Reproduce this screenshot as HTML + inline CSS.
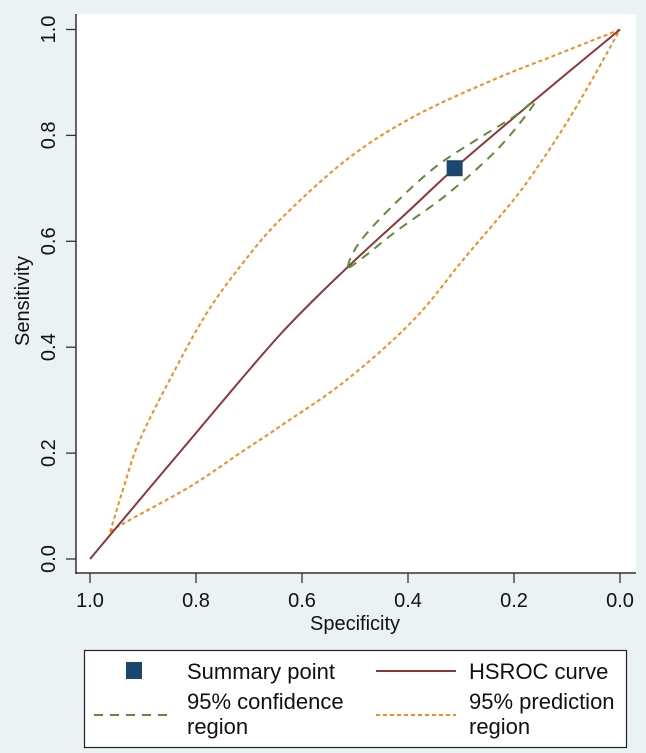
<!DOCTYPE html>
<html><head><meta charset="utf-8"><style>
body{margin:0;background:#eaf2f3;font-family:"Liberation Sans",sans-serif;}
svg{display:block}
</style></head><body>
<svg width="646" height="753" xmlns="http://www.w3.org/2000/svg">
<rect x="0" y="0" width="646" height="753" fill="#eaf2f3"/>
<rect x="76" y="14" width="560" height="559" fill="#ffffff"/>
<g id="axes"></g>
<g id="marks"></g>
<text x="355" y="630" font-size="20" text-anchor="middle" fill="#111">Specificity</text>
<text transform="translate(29,301) rotate(-90)" font-size="20" text-anchor="middle" fill="#111">Sensitivity</text>
<g>
<rect x="84.5" y="650.5" width="542" height="97" fill="#ffffff" stroke="#222" stroke-width="1.2"/>
<rect x="126" y="662" width="16" height="17" fill="#1a476f"/>
<text x="187" y="679" font-size="22" fill="#111">Summary point</text>
<line x1="376" y1="671" x2="456" y2="671" stroke="#90353b" stroke-width="2"/>
<text x="469" y="679" font-size="22" fill="#111">HSROC curve</text>
<line x1="94" y1="715" x2="174" y2="715" stroke="#5f8a3a" stroke-width="2" stroke-dasharray="9,7"/>
<text x="187" y="709" font-size="22" fill="#111">95% confidence</text>
<text x="187" y="734" font-size="22" fill="#111">region</text>
<line x1="376" y1="715" x2="456" y2="715" stroke="#f28c1c" stroke-width="2" stroke-dasharray="4,3"/>
<text x="469" y="709" font-size="22" fill="#111">95% prediction</text>
<text x="469" y="734" font-size="22" fill="#111">region</text>
</g>
</svg>
<script>
const ticks=[0,0.2,0.4,0.6,0.8,1.0];
const tickLabels=["0.0","0.2","0.4","0.6","0.8","1.0"];
const hsrocSpec=[1,0.811,0.642,0.513,0.4,0.312,0.164,0];
const hsrocSens=[0,0.225,0.423,0.552,0.656,0.738,0.864,1];
const summarySpec=[0.312];
const summarySens=[0.738];
const confSpec=[0.513,0.490,0.421,0.346,0.264,0.201,0.164,0.170,0.233,0.327,0.421,0.484,0.513];
const confSens=[0.552,0.600,0.675,0.742,0.796,0.835,0.864,0.848,0.772,0.688,0.620,0.570,0.552];
const predUpperSpec=[0.962,0.935,0.906,0.843,0.780,0.717,0.642,0.516,0.390,0.239,0.113,0];
const predUpperSens=[0.051,0.140,0.225,0.351,0.464,0.552,0.640,0.754,0.835,0.905,0.955,1];
const predLowerSpec=[0.962,0.937,0.811,0.717,0.642,0.516,0.390,0.296,0.201,0.151,0.100,0.050,0];
const predLowerSens=[0.051,0.067,0.137,0.200,0.250,0.338,0.451,0.565,0.678,0.747,0.825,0.910,1];

const NS="http://www.w3.org/2000/svg";
const X=s=>620-530*s;
const Y=v=>559-529.5*v;
const axes=document.getElementById('axes');
const marks=document.getElementById('marks');
function mk(tag,attrs,parent){const e=document.createElementNS(NS,tag);for(const k in attrs)e.setAttribute(k,attrs[k]);parent.appendChild(e);return e;}
let e=mk('line',{x1:76,y1:14,x2:76,y2:574,stroke:'#333','stroke-width':1.5},axes);


e=mk('line',{x1:75,y1:573,x2:636,y2:573,stroke:'#333','stroke-width':1.5},axes);


ticks.forEach((t,i)=>{
  let l=mk('line',{x1:X(t),y1:573,x2:X(t),y2:583,stroke:'#333','stroke-width':1.3},axes);
  
  
  let tx=mk('text',{x:X(t),y:607,'font-size':20,'text-anchor':'middle',fill:'#111'},axes);
  tx.textContent=tickLabels[i];
  
  
  l=mk('line',{x1:66,y1:Y(t),x2:76,y2:Y(t),stroke:'#333','stroke-width':1.3},axes);
  
  
  tx=mk('text',{transform:`translate(55,${Y(t)}) rotate(-90)`,'font-size':20,'text-anchor':'middle',fill:'#111'},axes);
  tx.textContent=tickLabels[i];
  
  
});
function smooth(a,b,closed){
  const P=a.map((s,i)=>[X(s),Y(b[i])]);
  const n=P.length;
  const get=i=>{
    if(closed){const m=n-1;return P[((i%m)+m)%m];}
    return P[Math.max(0,Math.min(n-1,i))];
  };
  let d='M'+P[0][0].toFixed(1)+','+P[0][1].toFixed(1);
  for(let i=0;i<n-1;i++){
    const p0=get(i-1),p1=get(i),p2=get(i+1),p3=get(i+2);
    const c1=[p1[0]+(p2[0]-p0[0])/6,p1[1]+(p2[1]-p0[1])/6];
    const c2=[p2[0]-(p3[0]-p1[0])/6,p2[1]-(p3[1]-p1[1])/6];
    d+=` C${c1[0].toFixed(1)},${c1[1].toFixed(1)} ${c2[0].toFixed(1)},${c2[1].toFixed(1)} ${p2[0].toFixed(1)},${p2[1].toFixed(1)}`;
  }
  return d;
}
let p=mk('path',{d:smooth(predUpperSpec,predUpperSens,false),fill:'none',stroke:'#f28c1c','stroke-width':2,'stroke-dasharray':'4,3'},marks);


p=mk('path',{d:smooth(predLowerSpec,predLowerSens,false),fill:'none',stroke:'#f28c1c','stroke-width':2,'stroke-dasharray':'4,3'},marks);


p=mk('path',{d:smooth(hsrocSpec,hsrocSens,false),fill:'none',stroke:'#90353b','stroke-width':2},marks);


p=mk('path',{d:smooth(confSpec,confSens,true),fill:'none',stroke:'#5f8a3a','stroke-width':2,'stroke-dasharray':'9,7'},marks);


summarySpec.forEach((s,i)=>{
  const r=mk('rect',{x:X(s)-8,y:Y(summarySens[i])-8,width:16,height:16,fill:'#1a476f'},marks);
  
  
});
</script>
</body></html>
